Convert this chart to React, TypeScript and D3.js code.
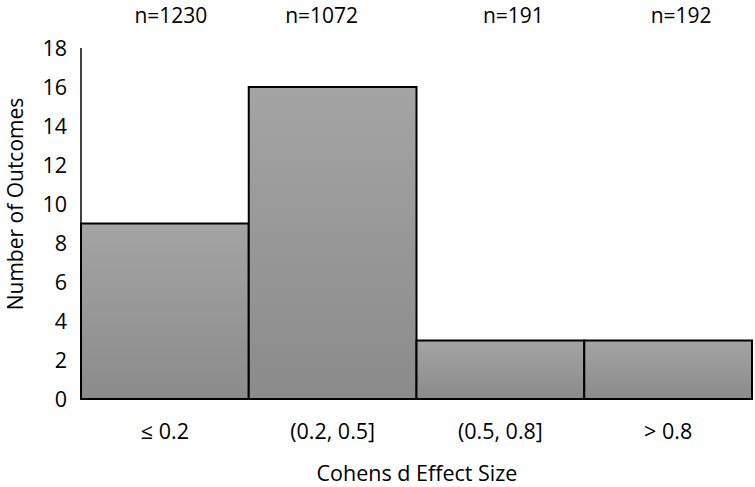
import React from "react";
import * as d3 from "d3";

const categories = ["≤ 0.2", "(0.2, 0.5]", "(0.5, 0.8]", "> 0.8"];
const counts = [9, 16, 3, 3];
const nLabels = ["n=1230", "n=1072", "n=191", "n=192"];
const nLabelNudge = [6, -11, 13, 13];
const yTicks = [0, 2, 4, 6, 8, 10, 12, 14, 16, 18];

const W = 755;
const H = 487;
const margin = { left: 81, right: 3, top: 48, bottom: 88 };
const FONT = "'Open Sans', sans-serif";

export default function App() {
  const x = d3
    .scaleBand<string>()
    .domain(categories)
    .range([margin.left, W - margin.right])
    .padding(0);
  const y = d3
    .scaleLinear()
    .domain([0, 18])
    .range([H - margin.bottom, margin.top]);

  return (
    <svg
      width={W}
      height={H}
      style={{ position: "absolute", left: 0, top: 0, background: "#fff" }}
    >
      <defs>
        <linearGradient id="barGrad" x1="0" y1="0" x2="0" y2="1">
          <stop offset="0%" stopColor="#a4a4a4" />
          <stop offset="100%" stopColor="#8b8b8b" />
        </linearGradient>
      </defs>
      <line
        x1={margin.left}
        x2={margin.left}
        y1={y(18)}
        y2={y(0)}
        stroke="#000"
        strokeWidth={1.5}
      />
      {yTicks.map((t) => (
        <text
          key={t}
          x={67}
          y={y(t)}
          dy="0.36em"
          textAnchor="end"
          fontFamily={FONT}
          fontSize={21.5}
          fill="#000"
        >
          {t}
        </text>
      ))}
      {categories.map((c, i) => (
        <rect
          key={c}
          x={x(c)!}
          y={y(counts[i])}
          width={x.bandwidth()}
          height={y(0) - y(counts[i])}
          fill="url(#barGrad)"
          stroke="#000"
          strokeWidth={2}
        />
      ))}
      {categories.map((c) => (
        <text
          key={"xl" + c}
          x={x(c)! + x.bandwidth() / 2}
          y={439}
          textAnchor="middle"
          fontFamily={FONT}
          fontSize={21.5}
          fill="#000"
        >
          {c}
        </text>
      ))}
      {categories.map((c, i) => (
        <text
          key={"n" + c}
          x={x(c)! + x.bandwidth() / 2 + nLabelNudge[i]}
          y={23}
          textAnchor="middle"
          fontFamily={FONT}
          fontSize={21}
          fill="#000"
        >
          {nLabels[i]}
        </text>
      ))}
      <text
        x={417}
        y={481}
        textAnchor="middle"
        fontFamily={FONT}
        fontSize={21.5}
        fill="#000"
      >
        Cohens d Effect Size
      </text>
      <text
        transform={`translate(23,204) rotate(-90)`}
        textAnchor="middle"
        fontFamily={FONT}
        fontSize={21}
        fill="#000"
      >
        Number of Outcomes
      </text>
    </svg>
  );
}
